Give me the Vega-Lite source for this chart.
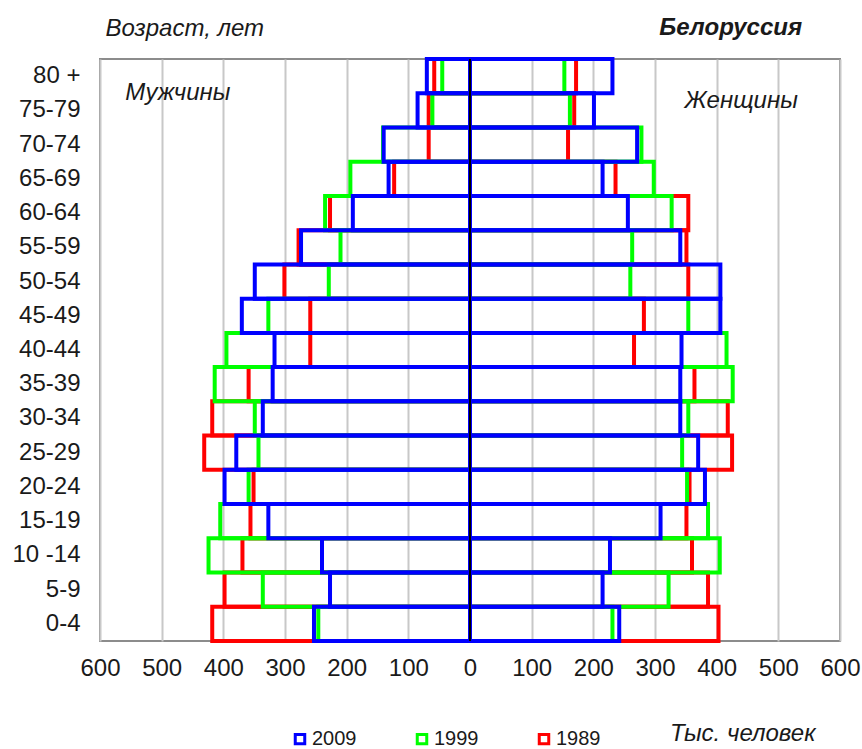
{
  "$schema": "https://vega.github.io/schema/vega-lite/v6.json",
  "width": 740,
  "height": 582,
  "autosize": "none",
  "padding": {"left": 100, "top": 59, "right": 22, "bottom": 108},
  "background": "white",
  "config": {
    "font": "Liberation Sans",
    "view": {"stroke": "#8c8c8c", "strokeWidth": 2}
  },
  "title": {
    "text": "Белоруссия",
    "anchor": "end",
    "fontStyle": "italic",
    "fontWeight": "bold",
    "fontSize": 24,
    "color": "#1a1a1a",
    "font": "Liberation Sans",
    "dx": -58,
    "offset": -24
  },
  "data": {
    "values": [
      {"sex": "M", "year": "1989", "age": "80 +", "value": 58},
      {"sex": "M", "year": "1989", "age": "75-79", "value": 67},
      {"sex": "M", "year": "1989", "age": "70-74", "value": 67},
      {"sex": "M", "year": "1989", "age": "65-69", "value": 123},
      {"sex": "M", "year": "1989", "age": "60-64", "value": 227},
      {"sex": "M", "year": "1989", "age": "55-59", "value": 278},
      {"sex": "M", "year": "1989", "age": "50-54", "value": 301},
      {"sex": "M", "year": "1989", "age": "45-49", "value": 259},
      {"sex": "M", "year": "1989", "age": "40-44", "value": 259},
      {"sex": "M", "year": "1989", "age": "35-39", "value": 359},
      {"sex": "M", "year": "1989", "age": "30-34", "value": 418},
      {"sex": "M", "year": "1989", "age": "25-29", "value": 431},
      {"sex": "M", "year": "1989", "age": "20-24", "value": 351},
      {"sex": "M", "year": "1989", "age": "15-19", "value": 356},
      {"sex": "M", "year": "1989", "age": "10 -14", "value": 369},
      {"sex": "M", "year": "1989", "age": "5-9", "value": 398},
      {"sex": "M", "year": "1989", "age": "0-4", "value": 418},
      {"sex": "M", "year": "1999", "age": "80 +", "value": 45},
      {"sex": "M", "year": "1999", "age": "75-79", "value": 61},
      {"sex": "M", "year": "1999", "age": "70-74", "value": 141},
      {"sex": "M", "year": "1999", "age": "65-69", "value": 194},
      {"sex": "M", "year": "1999", "age": "60-64", "value": 235},
      {"sex": "M", "year": "1999", "age": "55-59", "value": 210},
      {"sex": "M", "year": "1999", "age": "50-54", "value": 229},
      {"sex": "M", "year": "1999", "age": "45-49", "value": 327},
      {"sex": "M", "year": "1999", "age": "40-44", "value": 395},
      {"sex": "M", "year": "1999", "age": "35-39", "value": 414},
      {"sex": "M", "year": "1999", "age": "30-34", "value": 349},
      {"sex": "M", "year": "1999", "age": "25-29", "value": 343},
      {"sex": "M", "year": "1999", "age": "20-24", "value": 359},
      {"sex": "M", "year": "1999", "age": "15-19", "value": 405},
      {"sex": "M", "year": "1999", "age": "10 -14", "value": 424},
      {"sex": "M", "year": "1999", "age": "5-9", "value": 336},
      {"sex": "M", "year": "1999", "age": "0-4", "value": 246},
      {"sex": "M", "year": "2009", "age": "80 +", "value": 70},
      {"sex": "M", "year": "2009", "age": "75-79", "value": 85},
      {"sex": "M", "year": "2009", "age": "70-74", "value": 140},
      {"sex": "M", "year": "2009", "age": "65-69", "value": 132},
      {"sex": "M", "year": "2009", "age": "60-64", "value": 190},
      {"sex": "M", "year": "2009", "age": "55-59", "value": 274},
      {"sex": "M", "year": "2009", "age": "50-54", "value": 349},
      {"sex": "M", "year": "2009", "age": "45-49", "value": 370},
      {"sex": "M", "year": "2009", "age": "40-44", "value": 317},
      {"sex": "M", "year": "2009", "age": "35-39", "value": 320},
      {"sex": "M", "year": "2009", "age": "30-34", "value": 336},
      {"sex": "M", "year": "2009", "age": "25-29", "value": 379},
      {"sex": "M", "year": "2009", "age": "20-24", "value": 398},
      {"sex": "M", "year": "2009", "age": "15-19", "value": 327},
      {"sex": "M", "year": "2009", "age": "10 -14", "value": 240},
      {"sex": "M", "year": "2009", "age": "5-9", "value": 227},
      {"sex": "M", "year": "2009", "age": "0-4", "value": 253},
      {"sex": "F", "year": "1989", "age": "80 +", "value": 172},
      {"sex": "F", "year": "1989", "age": "75-79", "value": 169},
      {"sex": "F", "year": "1989", "age": "70-74", "value": 159},
      {"sex": "F", "year": "1989", "age": "65-69", "value": 236},
      {"sex": "F", "year": "1989", "age": "60-64", "value": 354},
      {"sex": "F", "year": "1989", "age": "55-59", "value": 351},
      {"sex": "F", "year": "1989", "age": "50-54", "value": 354},
      {"sex": "F", "year": "1989", "age": "45-49", "value": 282},
      {"sex": "F", "year": "1989", "age": "40-44", "value": 266},
      {"sex": "F", "year": "1989", "age": "35-39", "value": 364},
      {"sex": "F", "year": "1989", "age": "30-34", "value": 418},
      {"sex": "F", "year": "1989", "age": "25-29", "value": 425},
      {"sex": "F", "year": "1989", "age": "20-24", "value": 356},
      {"sex": "F", "year": "1989", "age": "15-19", "value": 351},
      {"sex": "F", "year": "1989", "age": "10 -14", "value": 360},
      {"sex": "F", "year": "1989", "age": "5-9", "value": 386},
      {"sex": "F", "year": "1989", "age": "0-4", "value": 403},
      {"sex": "F", "year": "1999", "age": "80 +", "value": 153},
      {"sex": "F", "year": "1999", "age": "75-79", "value": 162},
      {"sex": "F", "year": "1999", "age": "70-74", "value": 278},
      {"sex": "F", "year": "1999", "age": "65-69", "value": 298},
      {"sex": "F", "year": "1999", "age": "60-64", "value": 327},
      {"sex": "F", "year": "1999", "age": "55-59", "value": 263},
      {"sex": "F", "year": "1999", "age": "50-54", "value": 260},
      {"sex": "F", "year": "1999", "age": "45-49", "value": 354},
      {"sex": "F", "year": "1999", "age": "40-44", "value": 416},
      {"sex": "F", "year": "1999", "age": "35-39", "value": 426},
      {"sex": "F", "year": "1999", "age": "30-34", "value": 354},
      {"sex": "F", "year": "1999", "age": "25-29", "value": 344},
      {"sex": "F", "year": "1999", "age": "20-24", "value": 352},
      {"sex": "F", "year": "1999", "age": "15-19", "value": 386},
      {"sex": "F", "year": "1999", "age": "10 -14", "value": 405},
      {"sex": "F", "year": "1999", "age": "5-9", "value": 322},
      {"sex": "F", "year": "1999", "age": "0-4", "value": 231},
      {"sex": "F", "year": "2009", "age": "80 +", "value": 231},
      {"sex": "F", "year": "2009", "age": "75-79", "value": 201},
      {"sex": "F", "year": "2009", "age": "70-74", "value": 271},
      {"sex": "F", "year": "2009", "age": "65-69", "value": 215},
      {"sex": "F", "year": "2009", "age": "60-64", "value": 256},
      {"sex": "F", "year": "2009", "age": "55-59", "value": 341},
      {"sex": "F", "year": "2009", "age": "50-54", "value": 406},
      {"sex": "F", "year": "2009", "age": "45-49", "value": 406},
      {"sex": "F", "year": "2009", "age": "40-44", "value": 343},
      {"sex": "F", "year": "2009", "age": "35-39", "value": 341},
      {"sex": "F", "year": "2009", "age": "30-34", "value": 341},
      {"sex": "F", "year": "2009", "age": "25-29", "value": 370},
      {"sex": "F", "year": "2009", "age": "20-24", "value": 381},
      {"sex": "F", "year": "2009", "age": "15-19", "value": 309},
      {"sex": "F", "year": "2009", "age": "10 -14", "value": 227},
      {"sex": "F", "year": "2009", "age": "5-9", "value": 215},
      {"sex": "F", "year": "2009", "age": "0-4", "value": 242}
    ]
  },
  "layer": [
    {
      "layer": [
        {
          "transform": [{"filter": {"field": "sex", "equal": "M"}}],
          "mark": {"type": "bar", "filled": false, "strokeWidth": 4},
          "encoding": {
            "x": {"field": "value", "type": "quantitative", "stack": null, "scale": {"domain": [-600, 600], "reverse": true, "nice": false}, "axis": null},
            "y": {
              "field": "age", "type": "nominal",
              "scale": {"domain": ["80 +", "75-79", "70-74", "65-69", "60-64", "55-59", "50-54", "45-49", "40-44", "35-39", "30-34", "25-29", "20-24", "15-19", "10 -14", "5-9", "0-4"], "paddingInner": 0, "paddingOuter": 0},
              "axis": {"title": "Возраст, лет", "titleAngle": 0, "titleAlign": "left", "titleBaseline": "middle", "titleX": 5, "titleY": -31, "titleFontStyle": "italic", "titleFontWeight": "normal", "titleFontSize": 24, "titleColor": "#1a1a1a", "labelFontSize": 24, "labelPadding": 20, "labelColor": "#1a1a1a", "ticks": false, "domain": false, "grid": false}
            },
            "color": {
              "field": "year", "type": "nominal",
              "scale": {"domain": ["2009", "1999", "1989"], "range": ["#0000ff", "#00ff00", "#ff0000"]},
              "legend": {"orient": "none", "legendX": 190, "legendY": 670, "direction": "horizontal", "title": null, "symbolType": "square", "symbolSize": 90, "symbolStrokeWidth": 3, "labelFontSize": 20, "labelColor": "#1a1a1a", "columnPadding": 54, "labelOffset": 2, "padding": 0}
            }
          }
        },
        {
          "data": {"values": [{"label": "Мужчины"}]},
          "mark": {"type": "text", "align": "left", "baseline": "middle", "fontStyle": "italic", "fontSize": 24, "color": "#1a1a1a", "dy": 17},
          "encoding": {
            "x": {"datum": 559},
            "y": {"datum": "80 +"},
            "text": {"field": "label"}
          }
        }
      ]
    },
    {
      "layer": [
        {
          "transform": [{"filter": {"field": "sex", "equal": "F"}}],
          "mark": {"type": "bar", "filled": false, "strokeWidth": 4},
          "encoding": {
            "x": {
              "field": "value", "type": "quantitative", "stack": null,
              "scale": {"domain": [-600, 600], "nice": false},
              "axis": {"orient": "bottom", "values": [-600, -500, -400, -300, -200, -100, 0, 100, 200, 300, 400, 500, 600], "labelExpr": "abs(datum.value)", "grid": true, "gridColor": "#c8c8c8", "gridWidth": 2, "ticks": false, "domain": false, "labelFontSize": 24, "labelPadding": 15, "labelColor": "#1a1a1a", "labelFlush": false, "labelOverlap": false, "title": "Тыс. человек", "titleFontStyle": "italic", "titleFontWeight": "normal", "titleFontSize": 24, "titleColor": "#1a1a1a", "titleAlign": "right", "titleX": 715, "titleY": 92, "titleBaseline": "middle"}
            },
            "y": {
              "field": "age", "type": "nominal",
              "scale": {"domain": ["80 +", "75-79", "70-74", "65-69", "60-64", "55-59", "50-54", "45-49", "40-44", "35-39", "30-34", "25-29", "20-24", "15-19", "10 -14", "5-9", "0-4"], "paddingInner": 0, "paddingOuter": 0},
              "axis": {"title": "Возраст, лет", "titleAngle": 0, "titleAlign": "left", "titleBaseline": "middle", "titleX": 5, "titleY": -31, "titleFontStyle": "italic", "titleFontWeight": "normal", "titleFontSize": 24, "titleColor": "#1a1a1a", "labelFontSize": 24, "labelPadding": 20, "labelColor": "#1a1a1a", "ticks": false, "domain": false, "grid": false}
            },
            "color": {
              "field": "year", "type": "nominal",
              "scale": {"domain": ["2009", "1999", "1989"], "range": ["#0000ff", "#00ff00", "#ff0000"]},
              "legend": {"orient": "none", "legendX": 190, "legendY": 670, "direction": "horizontal", "title": null, "symbolType": "square", "symbolSize": 90, "symbolStrokeWidth": 3, "labelFontSize": 20, "labelColor": "#1a1a1a", "columnPadding": 54, "labelOffset": 2, "padding": 0}
            }
          }
        },
        {
          "data": {"values": [{"label": "Женщины"}]},
          "mark": {"type": "text", "align": "left", "baseline": "middle", "fontStyle": "italic", "fontSize": 24, "color": "#1a1a1a", "dy": -9},
          "encoding": {
            "x": {"datum": 348},
            "y": {"datum": "75-79"},
            "text": {"field": "label"}
          }
        },
        {
          "data": {"values": [{"line": "zero"}]},
          "mark": {"type": "rule", "color": "#000000", "strokeWidth": 2},
          "encoding": {"x": {"datum": 0}}
        }
      ]
    }
  ],
  "resolve": {"scale": {"x": "independent"}, "axis": {"x": "independent"}}
}
